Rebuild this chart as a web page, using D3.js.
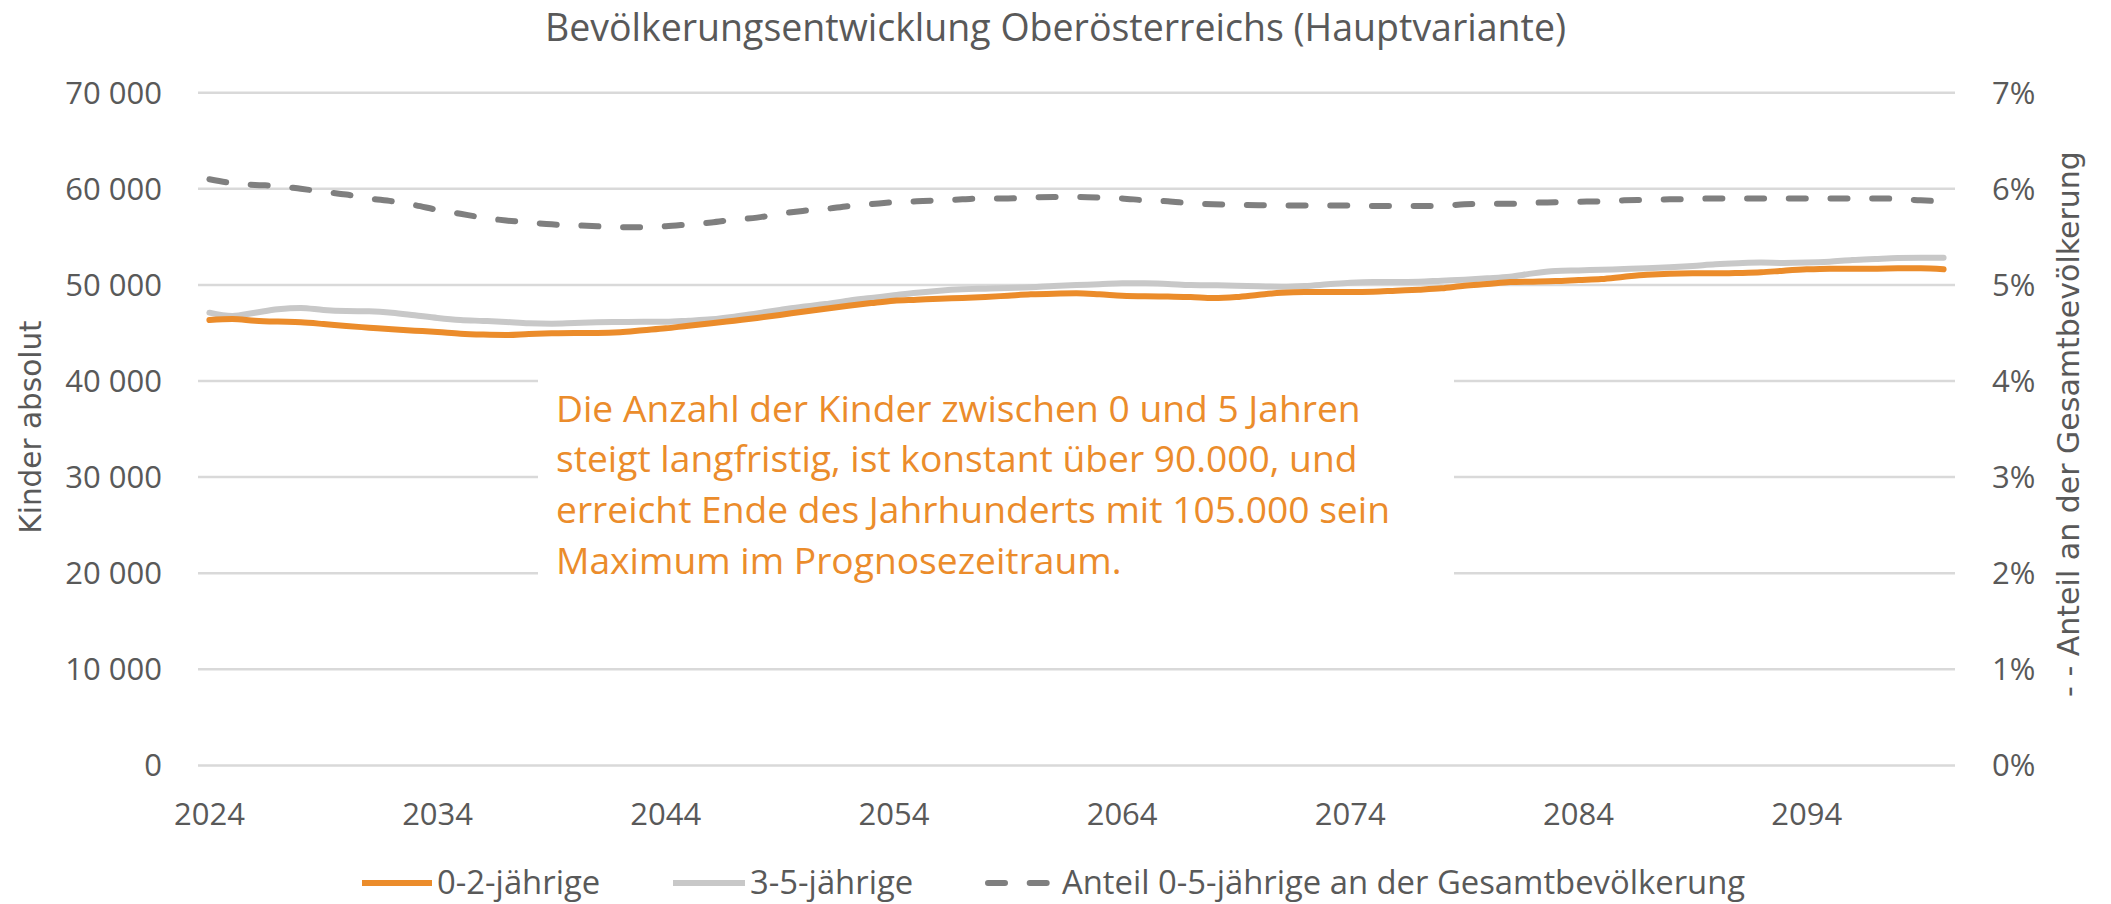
<!DOCTYPE html>
<html>
<head>
<meta charset="utf-8">
<script src="https://cdn.jsdelivr.net/npm/d3@7"></script>
<style>
  body { margin: 0; background: #fff; }
  svg text { font-family: "Open Sans", sans-serif; fill: #595959; }
</style>
</head>
<body>
<div id="chart"></div>
<script>
// data
var years = d3.range(2024, 2101);

var kids0to2 = [
  46350, 46450, 46280, 46180, 46110, 45930, 45720, 45550, 45380, 45240,
  45100, 44920, 44830, 44790, 44900, 44970, 45000, 45000, 45070, 45280,
  45480, 45760, 46000, 46280, 46560, 46870, 47210, 47520, 47830, 48110,
  48360, 48460, 48570, 48640, 48740, 48880, 49020, 49090, 49120, 49020,
  48880, 48810, 48780, 48740, 48640, 48740, 48980, 49190, 49260, 49260,
  49260, 49290, 49400, 49500, 49640, 49920, 50090, 50290, 50340, 50400,
  50510, 50610, 50850, 51060, 51170, 51200, 51200, 51240, 51310, 51480,
  51620, 51690, 51690, 51690, 51720, 51720, 51620
];

var kids3to5 = [
  47110, 46760, 47110, 47460, 47600, 47390, 47280, 47250, 47110, 46840,
  46560, 46350, 46250, 46140, 46000, 45970, 46040, 46110, 46140, 46170,
  46170, 46280, 46420, 46690, 47040, 47390, 47730, 48010, 48360, 48640,
  48920, 49190, 49400, 49540, 49610, 49680, 49750, 49890, 49990, 50060,
  50170, 50170, 50100, 49990, 49960, 49920, 49850, 49820, 49890, 50060,
  50230, 50300, 50300, 50330, 50440, 50540, 50680, 50850, 51200, 51440,
  51510, 51580, 51650, 51720, 51830, 51970, 52140, 52250, 52320, 52280,
  52320, 52420, 52590, 52700, 52800, 52830, 52830
];

// share of 0-5 year olds in total population, in %
var share0to5 = [
  6.10, 6.06, 6.04, 6.03, 6.00, 5.97, 5.94, 5.90, 5.87, 5.83,
  5.78, 5.74, 5.70, 5.67, 5.65, 5.63, 5.62, 5.61, 5.60, 5.60,
  5.61, 5.63, 5.65, 5.68, 5.70, 5.74, 5.77, 5.79, 5.82, 5.84,
  5.86, 5.87, 5.88, 5.89, 5.90, 5.90, 5.91, 5.915, 5.915, 5.91,
  5.90, 5.88, 5.87, 5.85, 5.84, 5.835, 5.83, 5.825, 5.825, 5.825,
  5.825, 5.82, 5.82, 5.82, 5.82, 5.84, 5.845, 5.845, 5.855, 5.86,
  5.865, 5.87, 5.88, 5.885, 5.89, 5.895, 5.90, 5.90, 5.90, 5.90,
  5.90, 5.90, 5.90, 5.90, 5.895, 5.88, 5.87
];

var leftTicks = [0, 10000, 20000, 30000, 40000, 50000, 60000, 70000];
var rightTicks = [0, 1, 2, 3, 4, 5, 6, 7];
var yearTicks = [2024, 2034, 2044, 2054, 2064, 2074, 2084, 2094];

var seriesNames = ["0-2-jährige", "3-5-jährige", "Anteil 0-5-jährige an der Gesamtbevölkerung"];
var noteLines = [
  "Die Anzahl der Kinder zwischen 0 und 5 Jahren",
  "steigt langfristig, ist konstant über 90.000, und",
  "erreicht Ende des Jahrhunderts mit 105.000 sein",
  "Maximum im Prognosezeitraum."
];

var orange = "#EB8C2B", light = "#C8C8C8", dark = "#7F7F7F";

var W = 2111, H = 904;
var svg = d3.select("#chart").append("svg")
    .attr("width", W)
    .attr("height", H);

var x = d3.scalePoint().domain(years).range([198, 1955]).padding(0.5);
var y = d3.scaleLinear().domain([0, 70000]).range([765.4, 92.7]);
var y2 = d3.scaleLinear().domain([0, 7]).range([765.4, 92.7]);

// title
svg.append("text")
    .attr("x", W / 2)
    .attr("y", 41)
    .attr("text-anchor", "middle")
    .style("font-size", "37.5px")
    .text("Bevölkerungsentwicklung Oberösterreichs (Hauptvariante)");

// gridlines
svg.append("g").selectAll("line")
    .data(leftTicks)
    .enter().append("line")
    .attr("x1", 198).attr("x2", 1955)
    .attr("y1", function(d) { return y(d); })
    .attr("y2", function(d) { return y(d); })
    .style("stroke", "#D9D9D9")
    .style("stroke-width", 2.5);

// left axis
var fmt = function(d) { return d3.format(",")(d).replace(/,/g, " "); };
svg.append("g").selectAll("text")
    .data(leftTicks)
    .enter().append("text")
    .attr("x", 162)
    .attr("y", function(d) { return y(d) + 11; })
    .attr("text-anchor", "end")
    .style("font-size", "31px")
    .text(fmt);

// right axis
svg.append("g").selectAll("text")
    .data(rightTicks)
    .enter().append("text")
    .attr("x", 1992)
    .attr("y", function(d) { return y2(d) + 11; })
    .style("font-size", "31px")
    .text(function(d) { return d + "%"; });

// x axis labels
svg.append("g").selectAll("text")
    .data(yearTicks)
    .enter().append("text")
    .attr("x", function(d) { return x(d); })
    .attr("y", 825)
    .attr("text-anchor", "middle")
    .style("font-size", "31px")
    .text(function(d) { return d; });

// axis titles
svg.append("text")
    .attr("transform", "translate(41,427) rotate(-90)")
    .attr("text-anchor", "middle")
    .style("font-family", "DejaVu Sans")
    .style("font-size", "29.5px")
    .text("Kinder absolut");

svg.append("text")
    .attr("transform", "translate(2079,424) rotate(-90)")
    .attr("text-anchor", "middle")
    .style("font-family", "DejaVu Sans")
    .style("font-size", "30px")
    .text("- - Anteil an der Gesamtbevölkerung");

// lines
var line = d3.line()
    .x(function(d, i) { return x(years[i]); })
    .y(function(d) { return y(d); })
    .curve(d3.curveMonotoneX);

var line2 = d3.line()
    .x(function(d, i) { return x(years[i]); })
    .y(function(d) { return y2(d); })
    .curve(d3.curveMonotoneX);

svg.append("path")
    .attr("d", line2(share0to5))
    .style("fill", "none")
    .style("stroke", dark)
    .style("stroke-width", 6)
    .style("stroke-linecap", "round")
    .style("stroke-dasharray", "17,24.7");

svg.append("path")
    .attr("d", line(kids3to5))
    .style("fill", "none")
    .style("stroke", light)
    .style("stroke-width", 6)
    .style("stroke-linecap", "round");

svg.append("path")
    .attr("d", line(kids0to2))
    .style("fill", "none")
    .style("stroke", orange)
    .style("stroke-width", 6)
    .style("stroke-linecap", "round");

// annotation box
svg.append("rect")
    .attr("x", 538)
    .attr("y", 366)
    .attr("width", 916)
    .attr("height", 230)
    .style("fill", "#fff");

svg.append("g").selectAll("text")
    .data(noteLines)
    .enter().append("text")
    .attr("x", 556)
    .attr("y", function(d, i) { return 421.5 + i * 50.8; })
    .style("font-size", "37.2px")
    .style("fill", orange)
    .text(function(d) { return d; });

// legend
var legend = [
  {name: seriesNames[0], color: orange, dash: null, x1: 362, x2: 432, tx: 437},
  {name: seriesNames[1], color: light, dash: null, x1: 673, x2: 745, tx: 750},
  {name: seriesNames[2], color: dark, dash: "17,24.7", x1: 988, x2: 1050, tx: 1062}
];
var lg = svg.append("g").selectAll("g")
    .data(legend)
    .enter().append("g");

lg.append("line")
    .attr("x1", function(d) { return d.x1; })
    .attr("x2", function(d) { return d.x2; })
    .attr("y1", 883).attr("y2", 883)
    .style("stroke", function(d) { return d.color; })
    .style("stroke-width", 6)
    .style("stroke-linecap", function(d) { return d.dash ? "round" : "butt"; })
    .style("stroke-dasharray", function(d) { return d.dash; });

lg.append("text")
    .attr("x", function(d) { return d.tx; })
    .attr("y", 894)
    .style("font-size", "32.8px")
    .text(function(d) { return d.name; });
</script>
</body>
</html>
